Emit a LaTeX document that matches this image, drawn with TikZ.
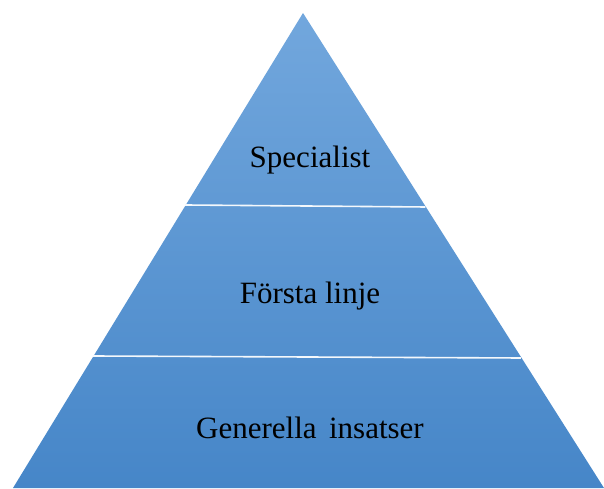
\documentclass[tikz,border=0pt]{standalone}
\usepackage{fontspec}
\setmainfont{Liberation Serif}
\usetikzlibrary{calc}
\definecolor{pyrtop}{RGB}{114,167,221}
\definecolor{pyrbot}{RGB}{70,134,200}
\tikzset{
  layerlabel/.style={font=\fontsize{31}{36}\selectfont, text=black, anchor=base, inner sep=0pt},
  sepline/.style={draw=white!92!pyrtop, line width=1.6pt}
}
\begin{document}
\begin{tikzpicture}[x=1pt,y=1pt]
\useasboundingbox (0,0) rectangle (604,488);
\clip (0,0) rectangle (604,488);
\coordinate (A) at (303,475);
\coordinate (L) at (13,0);
\coordinate (R) at (604,0);
\shade[top color=pyrtop, bottom color=pyrbot] (L) -- (A) -- (R) -- cycle;
\coordinate (s1l) at ($(L)!0.5937!(A)$);
\coordinate (s1r) at ($(R)!0.5937!(A)$);
\coordinate (s2l) at ($(L)!0.2758!(A)$);
\coordinate (s2r) at ($(R)!0.2758!(A)$);
\draw[sepline] ([yshift=1pt]s1l) -- ([yshift=-1pt]s1r);
\draw[sepline] ([yshift=1pt]s2l) -- ([yshift=-1pt]s2r);
\node[layerlabel] (spec) at (310,320) {Specialist};
\node[layerlabel] (forsta) at (310,185) {Första linje};
\node[layerlabel] (gen) at (310,50) {Generella\hspace{0.15em} insatser};
\end{tikzpicture}
\end{document}
